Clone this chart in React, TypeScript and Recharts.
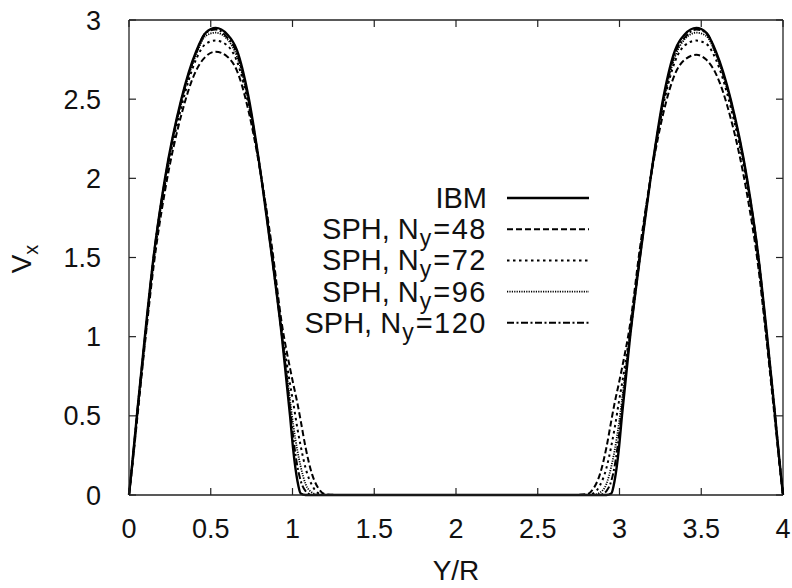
import React from "react";
import { LineChart, Line, XAxis, YAxis, ReferenceLine } from "recharts";

// Y/R sample positions, left hump then right hump (all series share them)
const posLeft = [0, 0.02, 0.05, 0.1, 0.15, 0.22, 0.32, 0.41, 0.47, 0.53, 0.6, 0.66, 0.73, 0.81, 0.875, 0.935, 0.985, 1.005, 1.03, 1.05, 1.08, 1.12, 1.16, 1.2, 1.3];
const posRight = [2.7, 2.8, 2.84, 2.88, 2.92, 2.95, 2.97, 2.995, 3.015, 3.065, 3.125, 3.19, 3.27, 3.34, 3.4, 3.47, 3.53, 3.59, 3.68, 3.78, 3.85, 3.9, 3.95, 3.98, 4.0];

// V_x
const ibmLeft = [0, 0.2, 0.52, 1.03, 1.5, 2.0, 2.5, 2.8, 2.92, 2.95, 2.91, 2.81, 2.52, 2.0, 1.5, 1.0, 0.5, 0.28, 0.09, 0.01, 0, 0, 0, 0, 0];
const ibmRight = [0, 0, 0, 0, 0, 0.01, 0.09, 0.28, 0.5, 1.0, 1.5, 2.0, 2.52, 2.81, 2.91, 2.95, 2.92, 2.8, 2.5, 2.0, 1.5, 1.03, 0.52, 0.2, 0];

const sph48Left = [0, 0.18, 0.48, 0.98, 1.44, 1.92, 2.4, 2.68, 2.77, 2.8, 2.77, 2.68, 2.43, 2.0, 1.56, 1.08, 0.8, 0.7, 0.58, 0.47, 0.3, 0.13, 0.04, 0.005, 0];
const sph48Right = [0, 0.005, 0.04, 0.13, 0.3, 0.47, 0.58, 0.7, 0.8, 1.08, 1.56, 2.0, 2.42, 2.66, 2.75, 2.78, 2.75, 2.66, 2.38, 1.9, 1.43, 0.97, 0.48, 0.18, 0];

const sph72Left = [0, 0.19, 0.5, 1.0, 1.47, 1.96, 2.45, 2.75, 2.85, 2.87, 2.84, 2.74, 2.47, 2.0, 1.53, 1.04, 0.7, 0.58, 0.42, 0.31, 0.17, 0.06, 0.01, 0, 0];
const sph72Right = [0, 0, 0.01, 0.06, 0.17, 0.31, 0.42, 0.58, 0.7, 1.04, 1.53, 2.0, 2.47, 2.74, 2.84, 2.87, 2.85, 2.75, 2.45, 1.96, 1.47, 1.0, 0.5, 0.19, 0];

const sph96Left = [0, 0.2, 0.51, 1.01, 1.49, 1.98, 2.48, 2.78, 2.9, 2.92, 2.88, 2.77, 2.49, 2.0, 1.51, 1.02, 0.6, 0.44, 0.28, 0.18, 0.07, 0.015, 0, 0, 0];
const sph96Right = [0, 0, 0, 0.015, 0.07, 0.18, 0.28, 0.44, 0.6, 1.02, 1.51, 2.0, 2.49, 2.77, 2.88, 2.92, 2.9, 2.78, 2.48, 1.98, 1.49, 1.01, 0.51, 0.2, 0];

const sph120Left = [0, 0.2, 0.52, 1.02, 1.5, 1.99, 2.49, 2.79, 2.92, 2.94, 2.89, 2.79, 2.5, 2.0, 1.5, 1.01, 0.55, 0.36, 0.18, 0.09, 0.025, 0, 0, 0, 0];
const sph120Right = [0, 0, 0, 0, 0.025, 0.09, 0.18, 0.36, 0.55, 1.01, 1.5, 2.0, 2.5, 2.79, 2.89, 2.94, 2.92, 2.79, 2.49, 1.99, 1.5, 1.02, 0.52, 0.2, 0];

const xTicks = [0, 0.5, 1, 1.5, 2, 2.5, 3, 3.5, 4];
const vTicks = [0, 0.5, 1, 1.5, 2, 2.5, 3];

const positions = [...posLeft, ...posRight];

const series = [
  { key: "ibm", main: "IBM", sub: "", tail: "", values: [...ibmLeft, ...ibmRight], dash: undefined, width: 2.4 },
  { key: "s48", main: "SPH, N", sub: "y", tail: "=48", values: [...sph48Left, ...sph48Right], dash: "6 3", width: 2 },
  { key: "s72", main: "SPH, N", sub: "y", tail: "=72", values: [...sph72Left, ...sph72Right], dash: "2.5 3.5", width: 2 },
  { key: "s96", main: "SPH, N", sub: "y", tail: "=96", values: [...sph96Left, ...sph96Right], dash: "1.2 1.2", width: 1.8 },
  { key: "s120", main: "SPH, N", sub: "y", tail: "=120", values: [...sph120Left, ...sph120Right], dash: "7 2.5 2 2.5", width: 2 },
];

const data = positions.map((p, i) => {
  const row: any = { pos: p };
  series.forEach(s => { row[s.key] = s.values[i]; });
  return row;
});

const FONT = "'Liberation Sans', Arial, Helvetica, sans-serif";
const INK = "#111";
const TICK_X = 0.043;
const TICK_Y = 0.044;

export default function App() {
  const tickStyle = { fontSize: 27, fill: INK, fontFamily: FONT };

  return (
    <div style={{ position: "absolute", left: 0, top: 0, width: 792, height: 588, background: "white" }}>
      <LineChart width={792} height={588} data={data} margin={{ top: 20, right: 9, bottom: 0, left: 0 }}>
        <XAxis
          dataKey="pos"
          type="number"
          domain={[0, 4]}
          ticks={xTicks}
          interval={0}
          height={93}
          tickLine={false}
          tickSize={0}
          tickMargin={24}
          axisLine={{ stroke: "#222", strokeWidth: 1.3 }}
          tick={tickStyle}
        />
        <YAxis
          type="number"
          domain={[0, 3]}
          ticks={vTicks}
          interval={0}
          width={129}
          tickLine={false}
          tickSize={0}
          tickMargin={28}
          axisLine={{ stroke: "#222", strokeWidth: 1.3 }}
          tick={tickStyle}
        />
        <ReferenceLine y={3} stroke="#222" strokeWidth={1.3} />
        <ReferenceLine x={4} stroke="#222" strokeWidth={1.3} />
        {xTicks.map(t => (
          <ReferenceLine key={"b" + t} segment={[{ x: t, y: 0 }, { x: t, y: TICK_Y }]} stroke="#222" strokeWidth={1.2} />
        ))}
        {xTicks.map(t => (
          <ReferenceLine key={"t" + t} segment={[{ x: t, y: 3 }, { x: t, y: 3 - TICK_Y }]} stroke="#222" strokeWidth={1.2} />
        ))}
        {vTicks.map(v => (
          <ReferenceLine key={"l" + v} segment={[{ x: 0, y: v }, { x: TICK_X, y: v }]} stroke="#222" strokeWidth={1.2} />
        ))}
        {vTicks.map(v => (
          <ReferenceLine key={"r" + v} segment={[{ x: 4, y: v }, { x: 4 - TICK_X, y: v }]} stroke="#222" strokeWidth={1.2} />
        ))}
        {series.map(s => (
          <Line
            key={s.key}
            dataKey={s.key}
            type="monotone"
            stroke="#000"
            strokeWidth={s.width}
            strokeDasharray={s.dash}
            dot={false}
            isAnimationActive={false}
          />
        ))}
      </LineChart>

      {/* axis titles and key, drawn over the chart */}
      <svg width={792} height={588} style={{ position: "absolute", left: 0, top: 0, pointerEvents: "none" }}>
        <text transform="translate(31,259) rotate(-90)" textAnchor="middle" fontFamily={FONT} fontSize={28} fill={INK}>
          V<tspan dy={7} fontSize={20}>x</tspan>
        </text>
        <text x={456} y={580} textAnchor="middle" fontFamily={FONT} fontSize={28} fill={INK}>Y/R</text>

        {series.map((s, i) => {
          const cy = 198 + i * 31.2;
          return (
            <g key={s.key}>
              <text x={487} y={cy + 10} textAnchor="end" fontFamily={FONT} fontSize={29} fill={INK}>
                {s.main}
                {s.sub && <tspan dy={7} dx={1} fontSize={23}>{s.sub}</tspan>}
                {s.tail && <tspan dy={-7} dx={2} letterSpacing={1.5}>{s.tail}</tspan>}
              </text>
              <line x1={507} x2={589} y1={cy} y2={cy} stroke="#000" strokeWidth={s.width} strokeDasharray={s.dash} />
            </g>
          );
        })}
      </svg>
    </div>
  );
}
